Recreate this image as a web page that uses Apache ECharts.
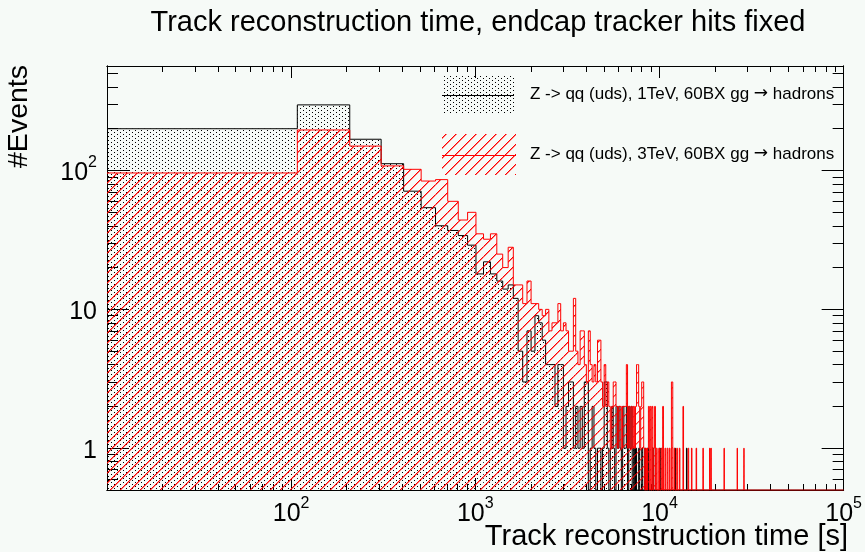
<!DOCTYPE html>
<html>
<head>
<meta charset="utf-8">
<script src="https://cdn.jsdelivr.net/npm/echarts@6/dist/echarts.min.js"></script>
<style>
  html, body { margin: 0; padding: 0; background: #f6faf7; }
  #chart { width: 865px; height: 552px; }
</style>
</head>
<body>
<div id="chart"></div>
<script>
// Histogram binning: fixed-width 100 s bins, first lower edge at 8 s
const BIN_START = 8;
const BIN_WIDTH = 100;
const N_BINS = 1000;

// Counts of the leading bins (dense)
const counts1TeVHead = [200, 297, 168, 112, 71, 54, 40, 37, 34, 29, 18, 22, 18, 16, 14, 15, 12, 5, 3, 7,
  5, 9, 8, 6, 4, 4, 4, 2, 4, 4, 1, 2, 3, 3, 1, 2, 1, 2, 1, 3,
  3, 0, 1, 2, 1, 0, 1, 1, 0, 1, 3, 3, 1, 0, 1, 2, 1, 0, 2, 1,
  2, 1, 0, 2, 1, 1, 2, 0, 2, 1, 2];
const counts3TeVHead = [96, 196, 150, 108, 102, 84, 86, 60, 44, 50, 35, 32, 35, 25, 20, 28, 15, 15, 11, 16,
  11, 11, 10, 9, 10, 7, 8, 8, 11, 7, 8, 7, 5, 5, 12, 5, 4, 7, 7, 4,
  3, 7, 4, 3, 4, 3, 6, 6, 3, 2, 4, 2, 3, 2, 1, 2, 3, 3, 2, 1,
  2, 2, 1, 2, 2, 2, 4, 1, 2, 1, 2, 1, 2, 1, 2, 4, 4, 2, 1, 2,
  3, 3, 1];
// Remaining non-empty bins: [bin index, count]
const counts1TeVTail = [[72, 1], [74, 1], [77, 1], [80, 1], [83, 1], [86, 1], [92, 1], [100, 1], [121, 1], [140, 1]];
const counts3TeVTail = [[84, 1], [86, 1], [87, 2], [89, 2], [91, 2], [93, 1], [94, 2], [96, 1], [99, 1], [102, 1],
  [104, 2], [107, 1], [110, 1], [113, 1], [116, 3], [117, 3], [120, 1], [124, 1], [128, 1], [134, 2],
  [143, 1], [149, 1], [158, 1], [172, 1], [187, 1], [190, 1], [224, 1], [264, 1], [287, 1]];

const seriesNames = ['Z -> qq (uds), 1TeV, 60BX gg \u2192 hadrons', 'Z -> qq (uds), 3TeV, 60BX gg \u2192 hadrons'];

// Axis ranges and tick values
const X_MIN = 10, X_MAX = 1e5;
const Y_MIN = 0.5, Y_MAX = 566;
const xMajorTicks = [10, 100, 1000, 10000, 100000];
const xLabelValues = [100, 1000, 10000, 100000];
const yMajorTicks = [1, 10, 100];
const yLabelValues = [1, 10, 100];

function minorTicks(lo, hi) {
  const out = [];
  for (let d = Math.floor(Math.log10(lo)) - 1; d <= Math.ceil(Math.log10(hi)); d++) {
    for (let m = 2; m <= 9; m++) {
      const v = m * Math.pow(10, d);
      if (v > lo && v < hi) out.push(v);
    }
  }
  return out;
}
const xMinorTicks = minorTicks(X_MIN, X_MAX);
const yMinorTicks = minorTicks(Y_MIN, Y_MAX);

function buildBins(head, tail) {
  const c = new Array(N_BINS).fill(0);
  head.forEach((v, i) => { c[i] = v; });
  tail.forEach(([i, v]) => { c[i] = v; });
  return c.map((v, i) => [BIN_START + i * BIN_WIDTH, BIN_START + (i + 1) * BIN_WIDTH, v, i > 0 ? c[i - 1] : 0, i]);
}

const FONT = '"Liberation Sans", Arial, Helvetica, sans-serif';

// Bitmap fill styles: a staggered dot grid and a red diagonal hatch
function dotCanvas() {
  const c = document.createElement('canvas');
  c.width = 6; c.height = 4;
  const g = c.getContext('2d');
  g.fillStyle = 'rgb(0,0,0)';
  g.fillRect(0, 0, 1, 1);
  g.fillRect(3, 2, 1, 1);
  return c;
}
function hatchCanvas() {
  const n = 10;
  const c = document.createElement('canvas');
  c.width = n; c.height = n;
  const g = c.getContext('2d');
  for (let i = 0; i < n; i++) {
    g.fillStyle = 'rgba(255,0,0,1)';
    g.fillRect(i, n - 1 - i, 1, 1);
    g.fillStyle = 'rgba(255,0,0,0.5)';
    g.fillRect(i, (2 * n - i) % n, 1, 1);
  }
  return c;
}
const dots = { image: dotCanvas(), repeat: 'repeat' };
const hatch = { image: hatchCanvas(), repeat: 'repeat' };

function makeRender(color, fill) {
  return function (params, api) {
    const lo = api.value(0), hi = api.value(1), n = api.value(2), prev = api.value(3);
    const xa = Math.max(lo, X_MIN), xb = Math.min(hi, X_MAX);
    if (xb <= xa) return null;
    const top = n > 0 ? Math.min(n, Y_MAX) : Y_MIN;
    const ptop = prev > 0 ? Math.min(prev, Y_MAX) : Y_MIN;
    const pTop = api.coord([xa, top]);
    const pEnd = api.coord([xb, Y_MIN]);
    const pPrev = api.coord([xa, ptop]);
    const children = [];
    if (n > 0) {
      children.push({
        type: 'rect',
        shape: { x: pTop[0], y: pTop[1], width: pEnd[0] - pTop[0], height: pEnd[1] - pTop[1] },
        style: { fill: fill },
        silent: true
      });
    }
    const pts = [];
    if (lo >= X_MIN) pts.push([pTop[0], pPrev[1]]);
    pts.push([pTop[0], pTop[1]], [pEnd[0], pTop[1]]);
    children.push({
      type: 'polyline',
      shape: { points: pts },
      style: { stroke: color, lineWidth: 1, fill: null },
      silent: true
    });
    return { type: 'group', children: children };
  };
}

function supLabel(v) {
  const e = Math.round(Math.log10(v));
  if (e <= 1) return '{b|' + Math.round(v) + '}';
  return '{b|10}{s|' + e + '}';
}
const labelRich = {
  b: { fontSize: 25, fontFamily: FONT, color: '#000', verticalAlign: 'bottom', padding: [6, 0, 0, 0] },
  s: { fontSize: 16, fontFamily: FONT, color: '#000', verticalAlign: 'top' }
};

function xAxisDef(position, ticks, len, withLabels) {
  return {
    type: 'log', logBase: 10, min: X_MIN, max: X_MAX, position: position,
    axisLine: { show: true, onZero: false, lineStyle: { color: '#000', width: 1 } },
    axisTick: { show: true, inside: true, length: len, customValues: ticks, lineStyle: { color: '#000', width: 1 } },
    axisLabel: withLabels ? { show: true, customValues: xLabelValues, formatter: supLabel, rich: labelRich, margin: 6 } : { show: false },
    splitLine: { show: false }, minorTick: { show: false }
  };
}
function yAxisDef(position, ticks, len, withLabels) {
  return {
    type: 'log', logBase: 10, min: Y_MIN, max: Y_MAX, position: position,
    axisLine: { show: true, onZero: false, lineStyle: { color: '#000', width: 1 } },
    axisTick: { show: true, inside: true, length: len, customValues: ticks, lineStyle: { color: '#000', width: 1 } },
    axisLabel: withLabels ? { show: true, customValues: yLabelValues, formatter: supLabel, rich: labelRich, margin: 10 } : { show: false },
    splitLine: { show: false }, minorTick: { show: false }
  };
}

const legendRich = {
  t: { fontSize: 17, fontFamily: FONT, color: '#000' },
  a: { fontSize: 17, fontFamily: '"DejaVu Sans", sans-serif', color: '#000' }
};
function legendText(name) {
  const parts = name.split('\u2192');
  return '{t|' + parts[0] + '}{a|\u2192}{t|' + parts[1] + '}';
}

const chart = echarts.init(document.getElementById('chart'), null, { renderer: 'canvas', width: 865, height: 552 });

chart.setOption({
  backgroundColor: '#f6faf7',
  animation: false,
  title: {
    text: 'Track reconstruction time, endcap tracker hits fixed',
    left: 473, top: 3, textAlign: 'center',
    textStyle: { fontFamily: FONT, fontSize: 29, fontWeight: 'normal', color: '#000' }
  },
  grid: { left: 107, right: 19, top: 66, bottom: 62, show: false },
  xAxis: [
    xAxisDef('bottom', xMajorTicks, 12, true),
    xAxisDef('bottom', xMinorTicks, 6, false),
    xAxisDef('top', xMajorTicks, 12, false),
    xAxisDef('top', xMinorTicks, 6, false)
  ],
  yAxis: [
    yAxisDef('left', yMajorTicks, 22, true),
    yAxisDef('left', yMinorTicks, 11, false),
    yAxisDef('right', yMajorTicks, 22, false),
    yAxisDef('right', yMinorTicks, 11, false)
  ],
  series: [
    {
      name: seriesNames[0], type: 'custom', xAxisIndex: 0, yAxisIndex: 0,
      renderItem: makeRender('#000000', dots),
      data: buildBins(counts1TeVHead, counts1TeVTail), z: 2
    },
    {
      name: seriesNames[1], type: 'custom', xAxisIndex: 0, yAxisIndex: 0,
      renderItem: makeRender('#ff0000', hatch),
      data: buildBins(counts3TeVHead, counts3TeVTail), z: 3
    }
  ],
  graphic: [
    { type: 'rect', shape: { x: 442, y: 75, width: 72, height: 39 }, style: { fill: dots }, z: 10 },
    { type: 'line', shape: { x1: 442, y1: 95.5, x2: 514, y2: 95.5 }, style: { stroke: '#000', lineWidth: 1 }, z: 10 },
    { type: 'text', x: 530, y: 94, style: { text: legendText(seriesNames[0]), rich: legendRich, verticalAlign: 'middle' }, z: 10 },
    { type: 'rect', shape: { x: 442, y: 134, width: 74, height: 41 }, style: { fill: hatch }, z: 10 },
    { type: 'line', shape: { x1: 442, y1: 155.5, x2: 516, y2: 155.5 }, style: { stroke: '#ff0000', lineWidth: 1 }, z: 10 },
    { type: 'text', x: 530, y: 154, style: { text: legendText(seriesNames[1]), rich: legendRich, verticalAlign: 'middle' }, z: 10 },
    { type: 'text', x: 848, y: 551, style: { text: 'Track reconstruction time [s]', font: '29px ' + FONT, fill: '#000', textAlign: 'right', textVerticalAlign: 'bottom' }, z: 10 },
    { type: 'text', x: 34, y: 65, rotation: Math.PI / 2, style: { text: '#Events', font: '28.5px ' + FONT, fill: '#000', textAlign: 'right', textVerticalAlign: 'bottom' }, z: 10 }
  ]
});
</script>
</body>
</html>
